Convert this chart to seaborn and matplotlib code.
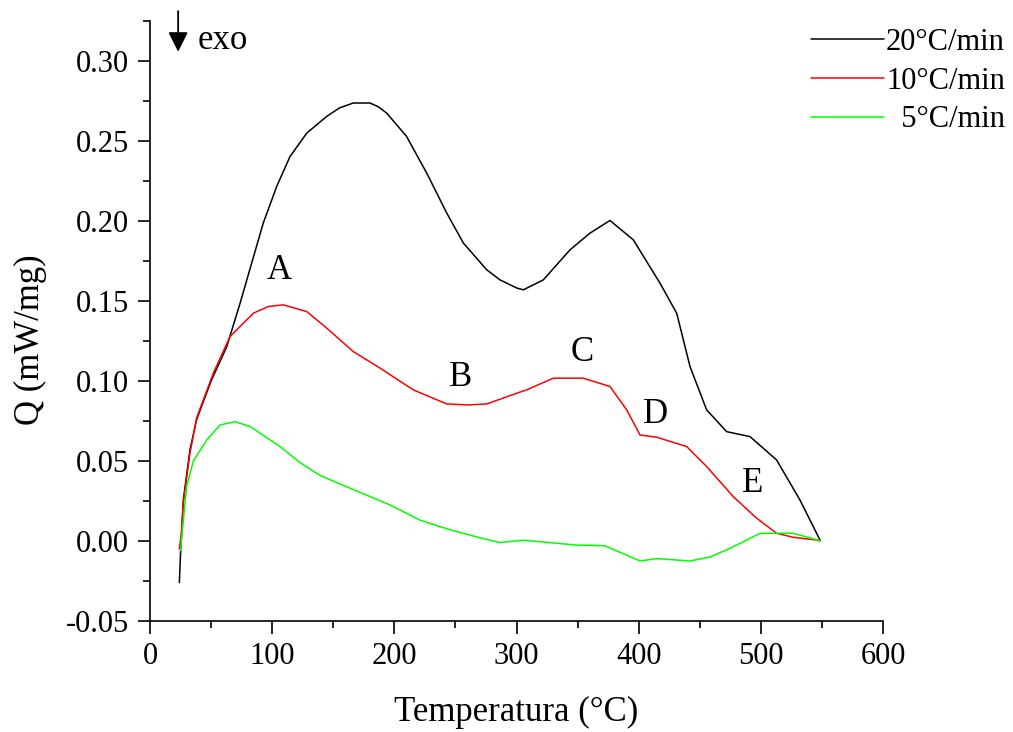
import numpy as np
import pandas as pd
import matplotlib
matplotlib.use("Agg")
import matplotlib.pyplot as plt
import seaborn as sns
from matplotlib.ticker import MultipleLocator, FormatStrFormatter

# --- data (temperature in °C, Q in mW/mg) ---
t_20 = [24, 25, 27.3, 32.7, 38.2, 50, 62.8, 73.7, 83.2, 92.7, 103.7, 114.6, 128.3,
        144.6, 155, 166.4, 180, 187, 193.7, 210, 226.5, 242.9, 256.5, 275.6, 286.5,
        300.2, 305.6, 321.9, 343.8, 360.1, 376.5, 395.6, 417.4, 431.1, 442, 455.6,
        472, 491.1, 512.9, 532, 548.4]
q_20 = [-0.026, -0.0075, 0.026, 0.057, 0.076, 0.100, 0.1214, 0.1485, 0.1736, 0.1986,
        0.2215, 0.2402, 0.2548, 0.2652, 0.2705, 0.2736, 0.2736, 0.2712, 0.2673,
        0.2527, 0.2298, 0.2048, 0.1861, 0.1694, 0.1631, 0.158, 0.1569, 0.1631,
        0.1819, 0.1923, 0.2002, 0.1881, 0.1611, 0.1423, 0.1090, 0.0819, 0.0683,
        0.0652, 0.0506, 0.0256, 0.0006]

t_10 = [24, 25.5, 27.3, 32.7, 38.2, 51.8, 65.5, 84.6, 97, 109.1, 128.3, 144.6, 166.4,
        188.3, 215.5, 242.9, 260, 275.6, 300.2, 308.3, 330.1, 354.6, 376.5, 390.2,
        401.1, 414.8, 439.3, 455.6, 477.4, 496.6, 512.9, 526.5, 545.7, 548.4]
q_10 = [-0.005, 0.004, 0.024, 0.055, 0.077, 0.1048, 0.1277, 0.1423, 0.1465, 0.1475,
        0.1433, 0.133, 0.1183, 0.108, 0.0944, 0.0856, 0.085, 0.0856, 0.0923, 0.0944,
        0.1017, 0.1017, 0.0965, 0.0819, 0.0662, 0.0648, 0.059, 0.0465, 0.0277,
        0.0142, 0.0048, 0.0023, 0.0006, 0.0]

t_5 = [25, 26, 30, 35.5, 46.4, 57.3, 69.6, 82, 106.4, 122.8, 139, 163.7, 196.4, 221,
       245.6, 270.1, 286.5, 305.3, 327.4, 347.9, 372.4, 401.1, 415, 442, 458.4,
       474.7, 499.3, 526.5, 548.4]
q_5 = [-0.006, 0.003, 0.034, 0.05, 0.063, 0.0725, 0.0745, 0.0715, 0.059, 0.049,
       0.041, 0.033, 0.0225, 0.013, 0.007, 0.002, -0.001, 0.0005, -0.001, -0.0025,
       -0.003, -0.0125, -0.011, -0.0125, -0.010, -0.0046, 0.0048, 0.0048, 0.0002]

rates = ["20°C/min", "10°C/min", "5°C/min"]
colors = ["#000000", "#ff0000", "#00ff00"]

# peak labels
peak_names = ["A", "B", "C", "D", "E"]
peak_t = [106, 254, 354, 414, 493]
peak_q = [0.169, 0.102, 0.118, 0.079, 0.036]

df = pd.concat([
    pd.DataFrame({"T": t_20, "Q": q_20, "rate": rates[0]}),
    pd.DataFrame({"T": t_10, "Q": q_10, "rate": rates[1]}),
    pd.DataFrame({"T": t_5, "Q": q_5, "rate": rates[2]}),
], ignore_index=True)

# --- style ---
sns.set_theme(style="ticks")
plt.rcParams["font.family"] = ["Liberation Serif", "DejaVu Serif"]
plt.rcParams["text.color"] = "black"
plt.rcParams["axes.labelcolor"] = "black"

fig = plt.figure(figsize=(10.13, 7.32), dpi=100)
ax = fig.add_axes([0.1481, 0.1516, 0.7236, 0.8201])

sns.lineplot(data=df, x="T", y="Q", hue="rate", hue_order=rates,
             palette=dict(zip(rates, colors)), sort=False, estimator=None,
             linewidth=1.1, ax=ax)

ax.set_xlim(0, 600)
ax.set_ylim(-0.05, 0.325)
ax.xaxis.set_major_locator(MultipleLocator(100))
ax.xaxis.set_minor_locator(MultipleLocator(50))
ax.yaxis.set_major_locator(MultipleLocator(0.05))
ax.yaxis.set_minor_locator(MultipleLocator(0.025))
ax.yaxis.set_major_formatter(FormatStrFormatter("%.2f"))

for s in ["top", "right"]:
    ax.spines[s].set_visible(False)
for s in ["left", "bottom"]:
    ax.spines[s].set_linewidth(1.2)
    ax.spines[s].set_color("black")

ax.tick_params(which="major", direction="out", length=9, width=1.2,
               labelsize=22, colors="black", pad=6)
ax.tick_params(which="minor", direction="out", length=5, width=1.2, colors="black")

ax.set_xlabel("Temperatura (°C)", fontsize=25, labelpad=18, color="black")
ax.set_ylabel("Q (mW/mg)", fontsize=25, color="black")
ax.yaxis.set_label_coords(-0.14, 0.468)

# peak letters
for name, tx, qy in zip(peak_names, peak_t, peak_q):
    ax.text(tx, qy, name, fontsize=25, ha="center", va="center", color="black")

# exo arrow
ax.annotate("", xy=(23, 0.3056), xytext=(23, 0.331),
            arrowprops=dict(arrowstyle="-|>", color="black", lw=1.3,
                            mutation_scale=30, shrinkA=0, shrinkB=0),
            annotation_clip=False)
ax.text(39, 0.3125, "exo", fontsize=25, ha="left", va="center", clip_on=False,
        color="black")

# legend
handles, labels = ax.get_legend_handles_labels()
labels = ["20°C/min", "10°C/min", "  5°C/min"]
leg = ax.legend(handles, labels, loc="upper right", bbox_to_anchor=(0.992, 0.962),
                bbox_transform=fig.transFigure, frameon=False, fontsize=22,
                handlelength=2.4, handletextpad=0.05, labelspacing=0.32,
                borderpad=0, borderaxespad=0)
for txt in leg.get_texts():
    txt.set_color("black")

fig.savefig("out.png", dpi=100, facecolor="white")
